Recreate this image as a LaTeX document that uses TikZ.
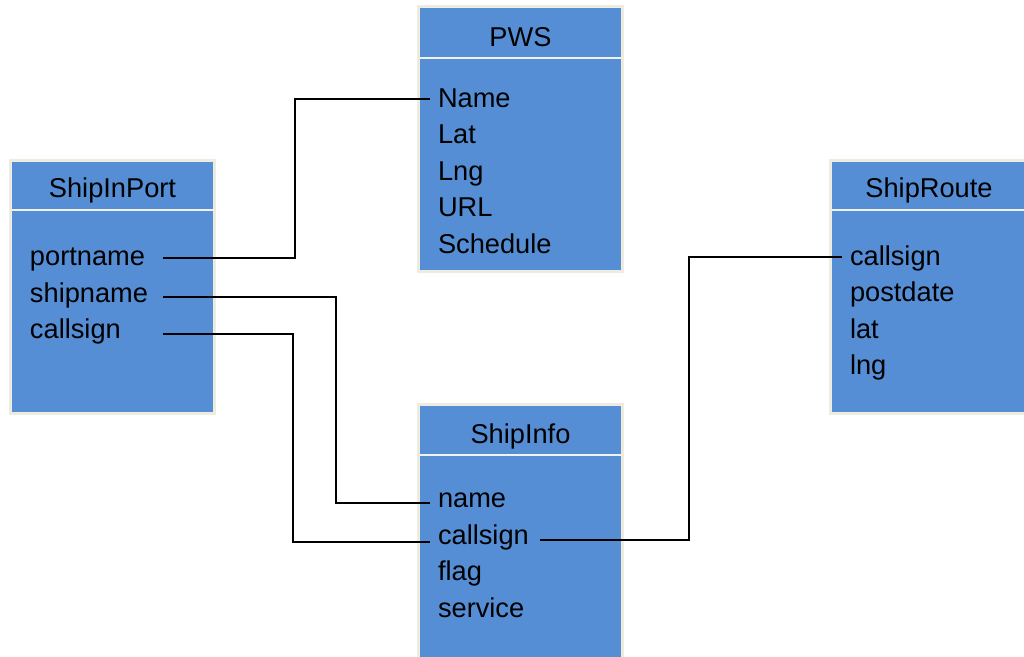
\documentclass[tikz,border=0pt]{standalone}
\usepackage{fontspec}
\setmainfont{Liberation Sans}
\usetikzlibrary{calc}

\begin{document}
\begin{tikzpicture}[x=0.02cm,y=-0.02cm,
    tbl/.style={draw=tblrim,fill=tblblue,line width=0.06cm,anchor=north west,
        minimum width=4.08cm,minimum height=5.06cm,inner sep=0,outer sep=0},
    ttl/.style={anchor=base,font=\fontsize{15.5}{18}\selectfont,inner sep=0},
    item/.style={anchor=mid west,font=\fontsize{15.5}{18}\selectfont,
        inner xsep=0.16cm,inner ysep=0,outer sep=0},
    sep/.style={draw=tblsep,line width=0.04cm},
    link/.style={line width=0.04cm}]

\definecolor{tblblue}{HTML}{558ED5}
\definecolor{tblrim}{HTML}{EEECE1}
\definecolor{tblsep}{HTML}{F2F2F2}

\useasboundingbox[fill=white] (0,0) rectangle (1024,656);

% tables
\node[tbl] (sip) at (10.5,160.5) {};
\node[tbl,minimum height=5.3cm] (pws) at (418.5,6.5) {};
\node[tbl,minimum height=5.6cm] (si) at (418.5,404.5) {};
\node[tbl,minimum width=4.4cm] (sr) at (830.5,160.5) {};

\draw[sep] (12,210)--(214,210);
\draw[sep] (420,58)--(621,58);
\draw[sep] (420,455)--(621,455);
\draw[sep] (832,210)--(1024,210);

\node[ttl] (sip-t) at (112.5,197) {ShipInPort};
\node[ttl] (pws-t) at (520.5,46) {PWS};
\node[ttl] (si-t) at (520.5,443) {ShipInfo};
\node[ttl] (sr-t) at (929,197) {ShipRoute};

% fields
\foreach \txt [count=\i] in {portname,shipname,callsign}
    \node[item,text width=2.5cm,align=left] (sip-\i) at (22,{261+36.5*(\i-1)}) {\txt};
\foreach \txt [count=\i] in {Name,Lat,Lng,URL,Schedule}
    \node[item] (pws-\i) at (430,{102.5+36.5*(\i-1)}) {\txt};
\foreach \txt [count=\i] in {name,callsign,flag,service}
    \node[item] (si-\i) at (430,{503+36.5*(\i-1)}) {\txt};
\foreach \txt [count=\i] in {callsign,postdate,lat,lng}
    \node[item] (sr-\i) at (842,{260.5+36.5*(\i-1)}) {\txt};

% links
\coordinate (bend1) at (295,0);
\coordinate (bend2) at (336,0);
\coordinate (bend3) at (293,0);
\coordinate (bend4) at (689,0);
\draw[link] ([yshift=0.07cm]sip-1.mid east)--([yshift=0.07cm]sip-1.mid east -| bend1) |- ([yshift=0.07cm]pws-1.mid west);
\draw[link] ([yshift=0.02cm]sip-2.mid east)--([yshift=0.02cm]sip-2.mid east -| bend2) |- (si-1.mid west);
\draw[link] (sip-3.mid east)--(sip-3.mid east -| bend3) |- ([yshift=-0.04cm]si-2.mid west);
\draw[link] ([xshift=0.06cm]si-2.mid east)--(si-2.mid east -| bend4) |- ([yshift=0.07cm]sr-1.mid west);

\end{tikzpicture}
\end{document}
